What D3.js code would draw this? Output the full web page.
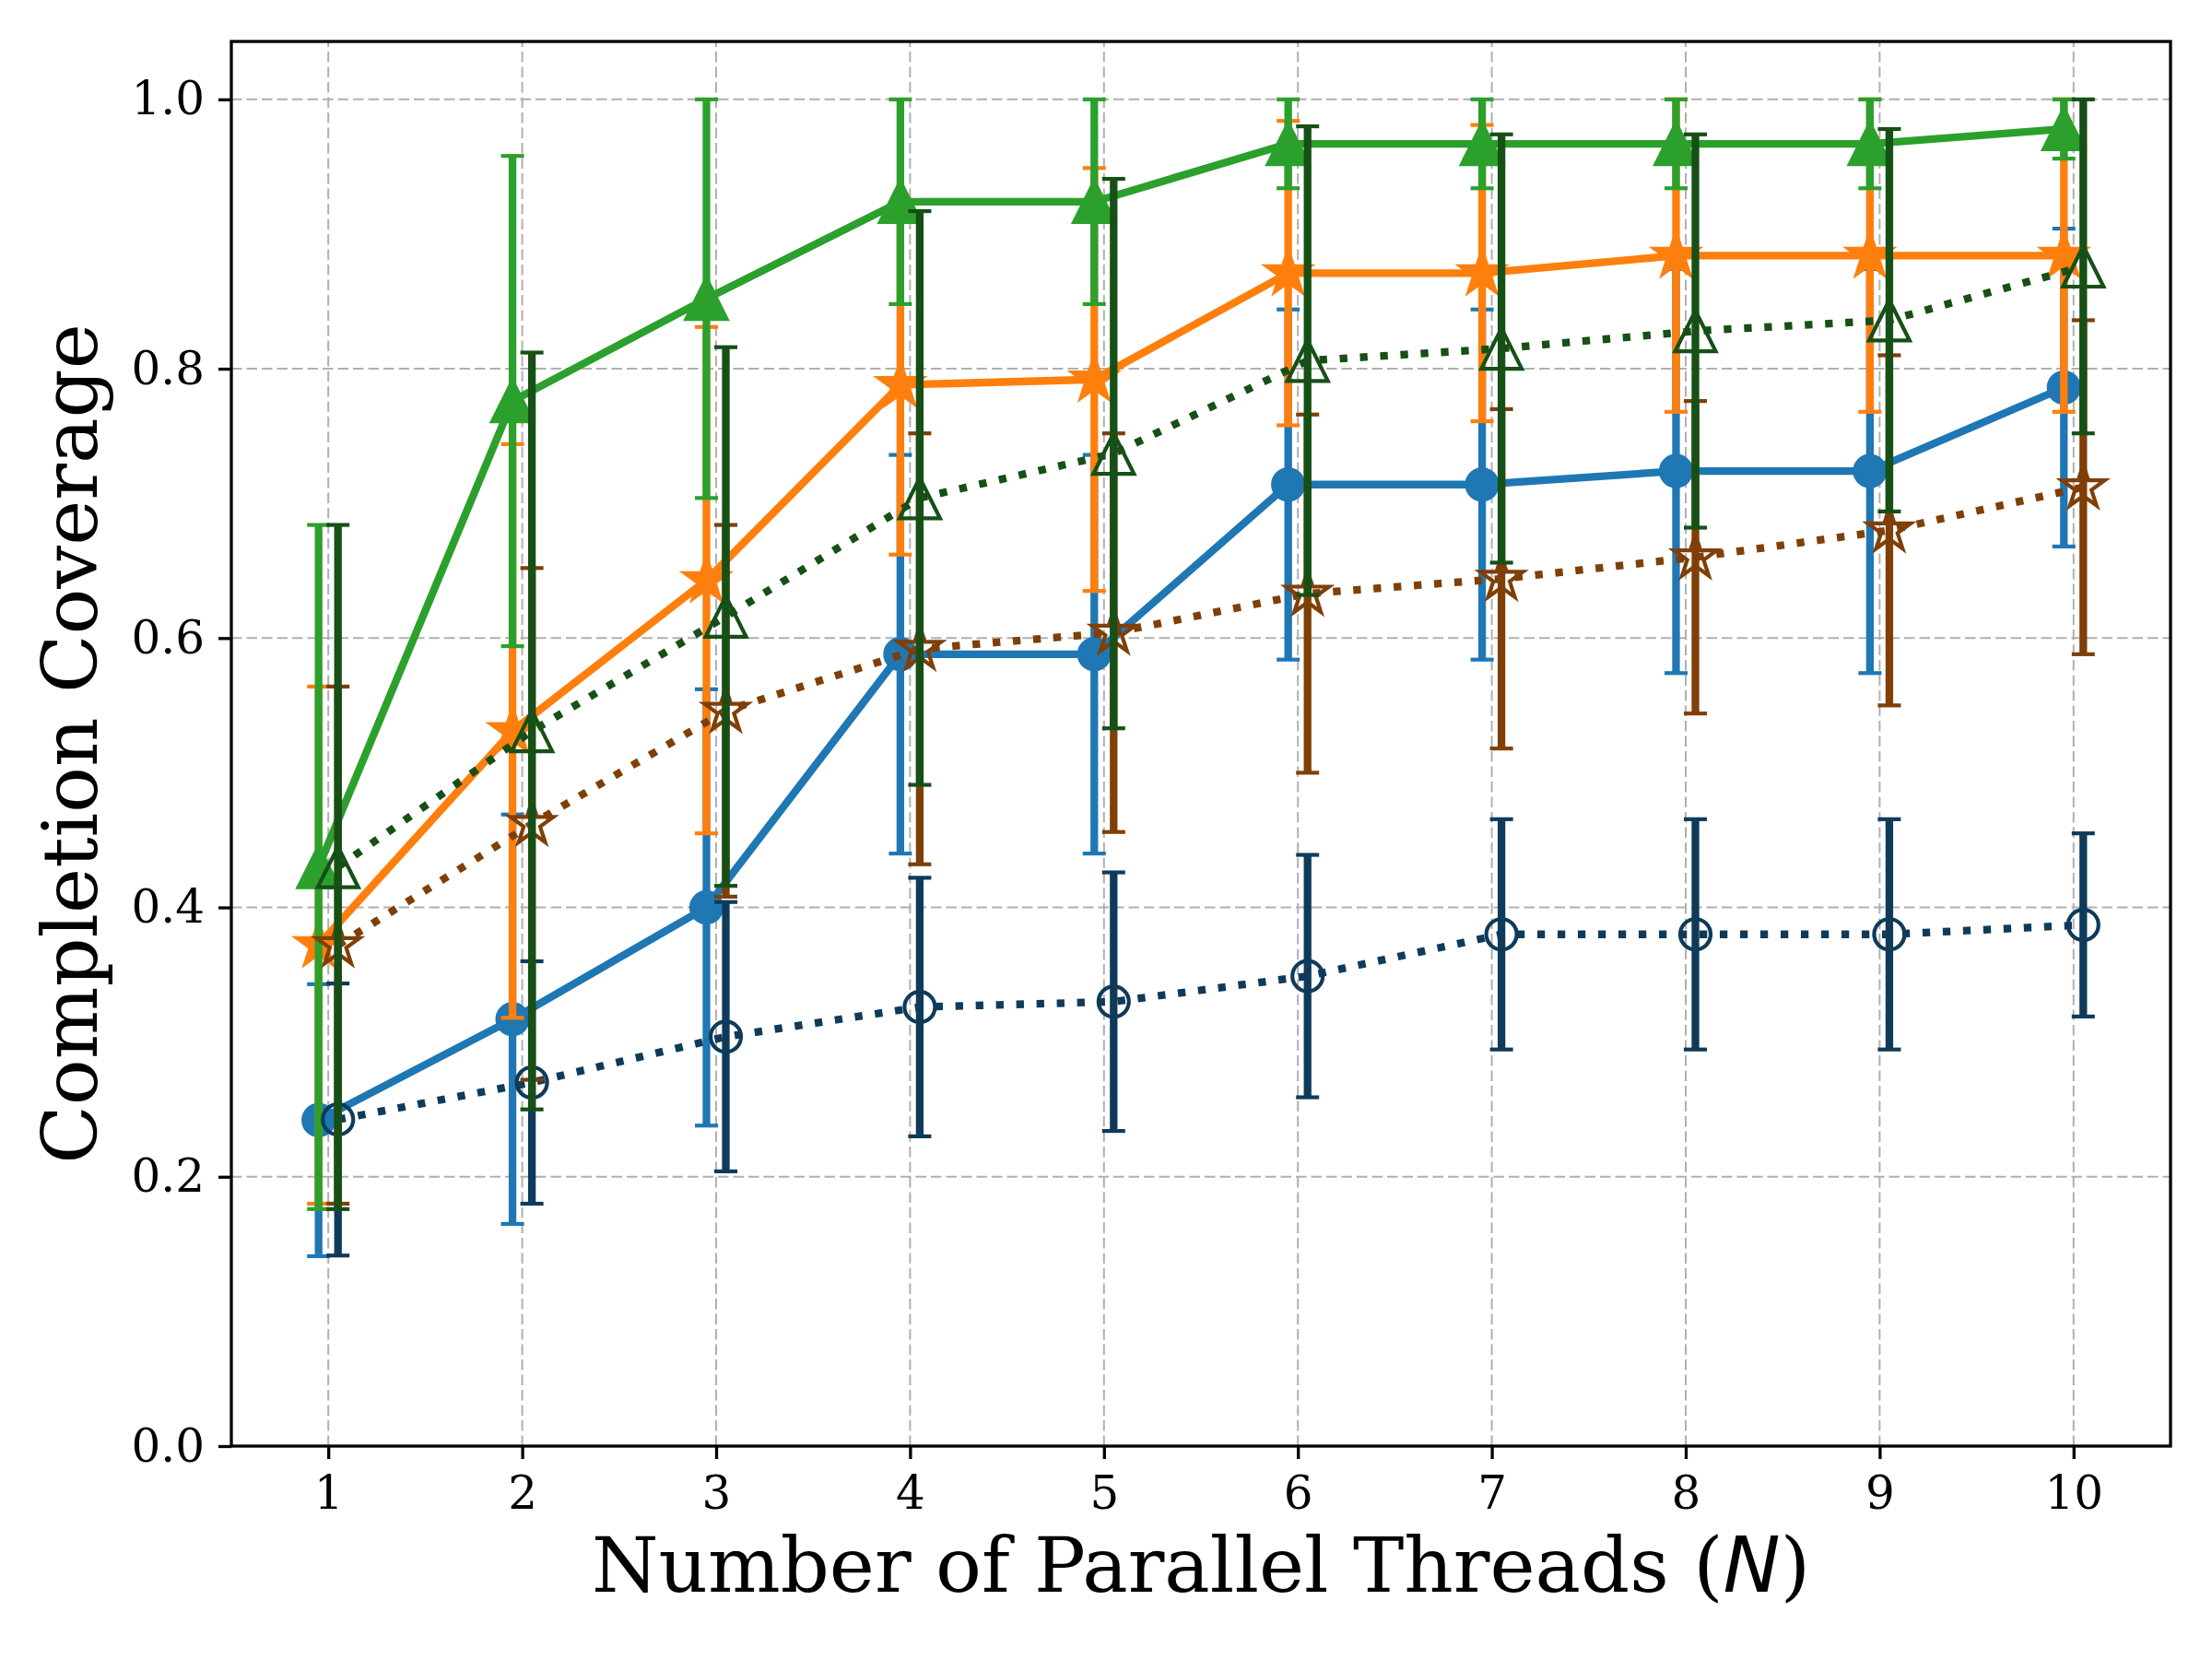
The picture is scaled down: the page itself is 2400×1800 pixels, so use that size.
<!DOCTYPE html>
<html>
<head>
<meta charset="utf-8">
<script src="https://cdn.jsdelivr.net/npm/d3@7"></script>
<style>
  body { margin: 0; background: #fff; }
  svg { display: block; }
</style>
</head>
<body>
<div id="chart"></div>
<script>
// data (mean and symmetric error per thread count)
const threads = [1, 2, 3, 4, 5, 6, 7, 8, 9, 10];
const yTicks = [0.0, 0.2, 0.4, 0.6, 0.8, 1.0];

const blueMean = [0.242, 0.317, 0.400, 0.588, 0.588, 0.714, 0.714, 0.724, 0.724, 0.786];
const blueErr = [0.101, 0.152, 0.162, 0.148, 0.148, 0.130, 0.130, 0.150, 0.150, 0.118];

const orangeMean = [0.372, 0.531, 0.643, 0.788, 0.792, 0.871, 0.871, 0.884, 0.884, 0.884];
const orangeErr = [0.192, 0.213, 0.188, 0.126, 0.157, 0.113, 0.110, 0.116, 0.116, 0.116];

const greenMean = [0.430, 0.776, 0.852, 0.924, 0.924, 0.967, 0.967, 0.967, 0.967, 0.978];
const greenErr = [0.254, 0.182, 0.148, 0.076, 0.076, 0.033, 0.033, 0.033, 0.033, 0.022];

const navyMean = [0.2425, 0.270, 0.304, 0.326, 0.330, 0.349, 0.380, 0.380, 0.380, 0.387];
const navyErr = [0.101, 0.090, 0.100, 0.096, 0.096, 0.090, 0.0855, 0.0855, 0.0855, 0.068];

const brownMean = [0.372, 0.462, 0.546, 0.592, 0.604, 0.633, 0.644, 0.660, 0.680, 0.712];
const brownErr = [0.192, 0.190, 0.138, 0.160, 0.148, 0.133, 0.126, 0.116, 0.130, 0.124];

const dkGreenMean = [0.430, 0.531, 0.616, 0.704, 0.737, 0.806, 0.815, 0.828, 0.836, 0.876];
const dkGreenErr = [0.254, 0.281, 0.200, 0.213, 0.204, 0.174, 0.159, 0.146, 0.142, 0.124];

// Dimensions and margins
const width = 2400;
const height = 1800;
const marginTop = 45;
const marginRight = 45;
const marginBottom = 231;
const marginLeft = 251;

const series = [
  { mean: blueMean, err: blueErr, color: "#1f77b4", marker: "circle", fill: true, dotted: false, dx: -0.05 },
  { mean: orangeMean, err: orangeErr, color: "#ff7f0e", marker: "star", fill: true, dotted: false, dx: -0.05 },
  { mean: greenMean, err: greenErr, color: "#2ca02c", marker: "triangle", fill: true, dotted: false, dx: -0.05 },
  { mean: navyMean, err: navyErr, color: "#0f3b5a", marker: "circle", fill: false, dotted: true, dx: 0.05 },
  { mean: brownMean, err: brownErr, color: "#7f3f07", marker: "star", fill: false, dotted: true, dx: 0.05 },
  { mean: dkGreenMean, err: dkGreenErr, color: "#165016", marker: "triangle", fill: false, dotted: true, dx: 0.05 }
];

const svg = d3.select("#chart").append("svg")
  .attr("width", width)
  .attr("height", height)
  .attr("viewBox", [0, 0, width, height]);

svg.append("rect").attr("width", width).attr("height", height).attr("fill", "#fff");

// scaling
const x = d3.scaleLinear()
  .domain([0.5, 10.5])
  .range([marginLeft, width - marginRight]);

const y = d3.scaleLinear()
  .domain([0, 1.043])
  .range([height - marginBottom, marginTop]);

// grid
const grid = svg.append("g")
  .attr("stroke", "#b0b0b0")
  .attr("stroke-width", 2)
  .attr("stroke-dasharray", "11.5,5");
grid.selectAll(".gx").data(threads).join("line")
  .attr("x1", d => x(d)).attr("x2", d => x(d))
  .attr("y1", y.range()[0]).attr("y2", y.range()[1]);
grid.selectAll(".gy").data(yTicks).join("line")
  .attr("x1", x.range()[0]).attr("x2", x.range()[1])
  .attr("y1", d => y(d)).attr("y2", d => y(d));

// marker shapes (matplotlib-like sizes)
function markerPath(kind) {
  if (kind === "circle") {
    const r = 16.5;
    return `M${r},0A${r},${r} 0 1,1 ${-r},0A${r},${r} 0 1,1 ${r},0Z`;
  }
  if (kind === "triangle") {
    const h = 22;
    return `M0,${-h}L${-h},${h}L${h},${h}Z`;
  }
  // star
  const R = 24.5, r = R * 0.381966;
  const pts = d3.range(10).map(k => {
    const a = -Math.PI / 2 + k * Math.PI / 5;
    const rad = k % 2 === 0 ? R : r;
    return [rad * Math.cos(a), rad * Math.sin(a)];
  });
  return "M" + pts.map(p => p.join(",")).join("L") + "Z";
}

const line = d3.line();

series.forEach(s => {
  const pts = threads.map((t, i) => ({ t: t + s.dx, m: s.mean[i], e: s.err[i] }));
  const g = svg.append("g");

  // error bars
  g.selectAll(".bar").data(pts).join("line")
    .attr("x1", d => x(d.t)).attr("x2", d => x(d.t))
    .attr("y1", d => y(d.m - d.e)).attr("y2", d => y(d.m + d.e))
    .attr("stroke", s.color).attr("stroke-width", 8.3);
  g.selectAll(".capLo").data(pts).join("line")
    .attr("x1", d => x(d.t) - 12.5).attr("x2", d => x(d.t) + 12.5)
    .attr("y1", d => y(d.m - d.e)).attr("y2", d => y(d.m - d.e))
    .attr("stroke", s.color).attr("stroke-width", 4.2);
  g.selectAll(".capHi").data(pts).join("line")
    .attr("x1", d => x(d.t) - 12.5).attr("x2", d => x(d.t) + 12.5)
    .attr("y1", d => y(d.m + d.e)).attr("y2", d => y(d.m + d.e))
    .attr("stroke", s.color).attr("stroke-width", 4.2);

  // line
  g.append("path")
    .attr("d", line(pts.map(d => [x(d.t), y(d.m)])))
    .attr("fill", "none")
    .attr("stroke", s.color)
    .attr("stroke-width", 8.3)
    .attr("stroke-linejoin", "round")
    .attr("stroke-dasharray", s.dotted ? "8.3,13.7" : null);

  // markers
  g.selectAll(".mk").data(pts).join("path")
    .attr("transform", d => `translate(${x(d.t)},${y(d.m)})`)
    .attr("d", markerPath(s.marker))
    .attr("fill", s.fill ? s.color : "none")
    .attr("stroke", s.color)
    .attr("stroke-width", 4.2)
    .attr("stroke-linejoin", "miter");
});

// axes
const font = "DejaVu Serif";

const xAxis = svg.append("g")
  .attr("transform", `translate(0,${height - marginBottom})`)
  .call(d3.axisBottom(x).tickValues(threads).tickSize(14).tickPadding(18).tickSizeOuter(0));
xAxis.select(".domain").remove();

const yAxis = svg.append("g")
  .attr("transform", `translate(${marginLeft},0)`)
  .call(d3.axisLeft(y).tickValues(yTicks).tickFormat(d3.format(".1f")).tickSize(14).tickPadding(15).tickSizeOuter(0));
yAxis.select(".domain").remove();

svg.selectAll(".tick line").attr("stroke", "#000").attr("stroke-width", 3.3);
svg.selectAll(".tick text")
  .attr("fill", "#000")
  .style("font-family", font)
  .style("font-size", "50px");

// frame
svg.append("rect")
  .attr("x", marginLeft).attr("y", marginTop)
  .attr("width", width - marginLeft - marginRight)
  .attr("height", height - marginTop - marginBottom)
  .attr("fill", "none").attr("stroke", "#000").attr("stroke-width", 3.3);

// labels
const xl = svg.append("text")
  .attr("x", (marginLeft + width - marginRight) / 2)
  .attr("y", 1727)
  .attr("text-anchor", "middle")
  .style("font-family", font)
  .style("font-size", "83px");
xl.append("tspan").text("Number of Parallel Threads (");
xl.append("tspan").text("N").style("font-family", "DejaVu Sans").style("font-style", "italic");
xl.append("tspan").text(")");

svg.append("text")
  .attr("transform", `translate(105,${(marginTop + height - marginBottom) / 2}) rotate(-90)`)
  .attr("text-anchor", "middle")
  .style("font-family", font)
  .style("font-size", "83px")
  .text("Completion Coverage");
</script>
</body>
</html>
